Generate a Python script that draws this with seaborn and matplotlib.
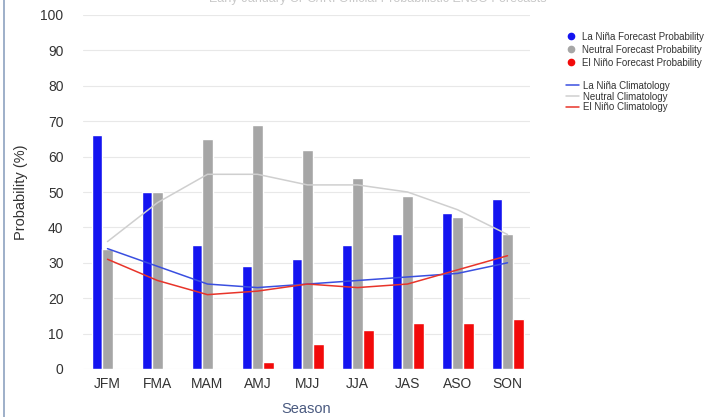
import numpy as np
import pandas as pd
import matplotlib
matplotlib.use("Agg")
import matplotlib.pyplot as plt
from matplotlib.lines import Line2D
import seaborn as sns

# data
seasons = ["JFM", "FMA", "MAM", "AMJ", "MJJ", "JJA", "JAS", "ASO", "SON"]
lanina_fc = [66, 50, 35, 29, 31, 35, 38, 44, 48]
neutral_fc = [34, 50, 65, 69, 62, 54, 49, 43, 38]
elnino_fc = [0, 0, 0, 2, 7, 11, 13, 13, 14]
lanina_clim = [34, 29, 24, 23, 24, 25, 26, 27, 30]
neutral_clim = [36, 47, 55, 55, 52, 52, 50, 45, 38]
elnino_clim = [31, 25, 21, 22, 24, 23, 24, 28, 32]

bar_names = ["La Niña Forecast Probability", "Neutral Forecast Probability", "El Niño Forecast Probability"]
line_names = ["La Niña Climatology", "Neutral Climatology", "El Niño Climatology"]
bar_colors = ["#1414f0", "#a6a6a6", "#f20a0a"]
line_colors = ["#3a4fe0", "#cfcfcf", "#e8342a"]

bars = pd.DataFrame({
    "season": seasons * 3,
    "prob": lanina_fc + neutral_fc + elnino_fc,
    "kind": [bar_names[0]] * 9 + [bar_names[1]] * 9 + [bar_names[2]] * 9,
})

sns.set_style("white")
plt.rcParams["font.family"] = ["Liberation Sans", "DejaVu Sans"]

fig = plt.figure(figsize=(7.26, 4.17), dpi=100)
ax = fig.add_axes([83 / 726, 48 / 417, 447 / 726, 354 / 417])

sns.barplot(data=bars, x="season", y="prob", hue="kind", palette=bar_colors,
            width=0.64, saturation=1, legend=False, ax=ax, zorder=2)

xs = np.arange(len(seasons))
for vals, c in zip([lanina_clim, neutral_clim, elnino_clim], line_colors):
    sns.lineplot(x=xs, y=vals, color=c, linewidth=1.1, ax=ax, zorder=3)

ax.set_ylim(0, 100)
ax.set_xlim(-0.49, 8.45)
ax.set_yticks(range(0, 101, 10))
ax.yaxis.grid(True, color="#e8e8e8", linewidth=0.8, zorder=0)
ax.set_axisbelow(True)
for s in ax.spines.values():
    s.set_visible(False)
ax.tick_params(axis="both", length=0, labelsize=10, colors="#333333")
ax.tick_params(axis="y", pad=14)
ax.tick_params(axis="x", pad=6)
ax.set_xlabel("Season", fontsize=10.5, color="#4a5a80", labelpad=8)
ax.set_ylabel("Probability (%)", fontsize=10.5, color="#333333")
ax.yaxis.set_label_coords((28 - 83) / 447, 0.5)

# legends on the right
h1 = [Line2D([], [], marker="o", linestyle="", markersize=4.5, color=c) for c in bar_colors]
leg1 = fig.legend(h1, bar_names, loc="upper left", bbox_to_anchor=(561 / 726, 1 - 27 / 417),
                  frameon=False, fontsize=7, handlelength=1.0, handletextpad=0.7,
                  labelspacing=0.3, borderpad=0)
h2 = [Line2D([], [], color=c, linewidth=1.1) for c in line_colors]
leg2 = fig.legend(h2, line_names, loc="upper left", bbox_to_anchor=(561 / 726, 1 - 76 / 417),
                  frameon=False, fontsize=7, handlelength=1.3, handletextpad=0.45,
                  labelspacing=0.08, borderpad=0)
for leg in (leg1, leg2):
    for t in leg.get_texts():
        t.set_color("#333333")

fig.text(0.52, 1.003, "Early-January CPC/IRI Official Probabilistic ENSO Forecasts",
         ha="center", va="center", fontsize=9, color="#c8c8c8")
fig.add_artist(Line2D([4 / 726, 4 / 726], [0, 1], color="#8ea2c0", linewidth=1.2))

plt.savefig("out.png", dpi=100)
